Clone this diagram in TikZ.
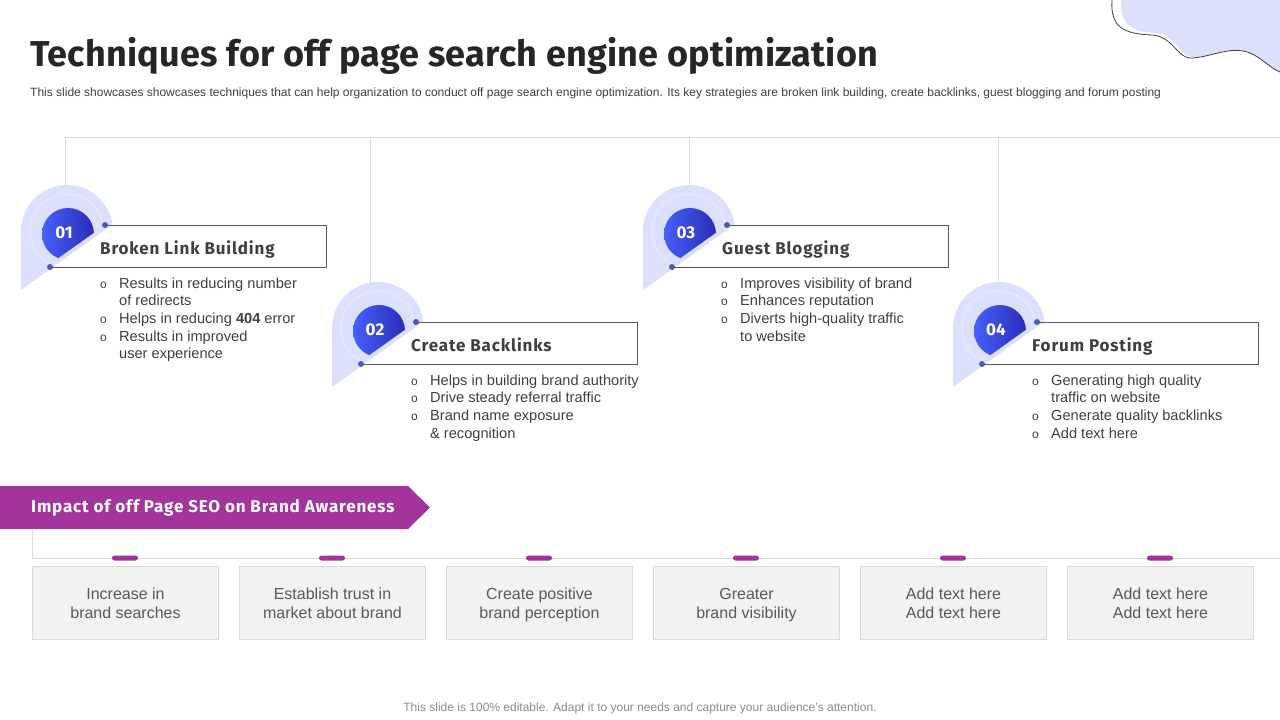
\documentclass[tikz,border=0pt]{standalone}
\usepackage{fontspec}
\setmainfont{Liberation Sans}
\setsansfont{Fira Sans}
\usetikzlibrary{positioning,calc}
\definecolor{ink}{HTML}{262626}
\definecolor{body}{HTML}{404040}
\definecolor{pinbg}{HTML}{DCE0FD}
\definecolor{ring}{HTML}{E9EAF6}
\definecolor{blueA}{HTML}{4660FA}
\definecolor{blueB}{HTML}{2A2DB8}
\definecolor{dotc}{HTML}{4C5CB0}
\definecolor{edge}{HTML}{5A5A5A}
\definecolor{rule}{HTML}{D9D9D9}
\definecolor{plum}{HTML}{A2349C}
\definecolor{boxbg}{HTML}{F2F2F2}
\definecolor{boxtext}{HTML}{595959}
\definecolor{foot}{HTML}{8C8C8C}
\newcommand\blt{{\fontsize{12}{12}\selectfont o}}

\begin{document}
\begin{tikzpicture}[x=1pt,y=-1pt,
  hair/.style={draw=rule,line width=1pt},
  dot/.style={circle,fill=dotc,inner sep=0pt,minimum size=6pt},
  head/.style={anchor=base west,inner sep=0pt,text=body,font=\sffamily\bfseries\fontsize{17}{20}\selectfont\addfontfeature{LetterSpace=5}},
  num/.style={inner sep=0pt,text=white,font=\sffamily\bfseries\fontsize{17}{20}\selectfont},
  points/.style={anchor=base west,inner sep=0pt,text=body,font=\fontsize{14.6}{17.7}\selectfont},
  effect/.style={draw=rule,fill=boxbg,minimum width=186pt,minimum height=73pt,text=boxtext,align=center,font=\fontsize{16}{19.5}\selectfont},
  tab/.style={fill=plum,rounded corners=2.5pt,minimum width=26pt,minimum height=5pt,inner sep=0pt}]
\useasboundingbox (0,0) rectangle (1280,720);
\fill[white] (0,0) rectangle (1280,720);

% corner blob
\fill[pinbg] (1121,0) .. controls (1120,25) and (1132,32) .. (1156,33) .. controls (1175,35) and (1180,56) .. (1192,57) .. controls (1212,57) and (1230,45) .. (1250,53) .. controls (1262,58) and (1270,68) .. (1280,72) -- (1280,0) -- cycle;
\draw[black!75,line width=0.8pt] (1112,0) .. controls (1110,28) and (1125,34) .. (1152,35) .. controls (1172,36) and (1178,58) .. (1190,58) .. controls (1210,58) and (1230,45) .. (1250,53) .. controls (1262,58) and (1270,68) .. (1280,72);

\node[anchor=base west,inner sep=0pt,text=ink,font=\sffamily\bfseries\fontsize{36}{40}\selectfont\addfontfeature{LetterSpace=0.6}] (title) at (30,66) {Techniques for off page search engine optimization};
\node[anchor=base west,inner sep=0pt,text=body,font=\fontsize{12}{14}\selectfont] (sub) at (30,96) {This slide showcases showcases techniques that can help organization to conduct off page search engine optimization. Its key strategies are broken link building, create backlinks, guest blogging and forum posting};

\coordinate (hl) at (65,137);
\coordinate (hr) at (1280,137);
\draw[hair] (hl) -- (hr);

% technique cards
\foreach \n/\px/\py/\vx/\title in {01/67/231/-2/Broken Link Building,02/378/328/-8/Create Backlinks,03/689/231/0/Guest Blogging,04/999/328/-1/Forum Posting}{
\begin{scope}[shift={(\px,\py)}]
\fill[pinbg] (-46,59) -- (-46,0) arc[start angle=180,end angle=352,radius=46] -- cycle;
\begin{scope}
\clip (-46,59) -- (-46,0) arc[start angle=180,end angle=352,radius=46] -- cycle;
\draw[ring,line width=1.2pt] (0,0) circle[radius=37];
\end{scope}
\begin{scope}
\clip (-80,78) -- (70,-29) -- (70,-60) -- (-80,-60) -- cycle;
\shade[left color=blueA,right color=blueB] (1,3) circle[radius=26];
\end{scope}
\coordinate (top\n) at (\vx,-45);
\draw[hair] (top\n) -- (top\n |- hl);
\node[num] (n\n) at (-3,2) {\n};
\node[dot] (u\n) at (38,-6) {};
\node[dot] (l\n) at (-17,36) {};
\draw[edge,line width=1pt] (u\n.center) -- (259,-6) -- (259,36) -- (l\n.center);
\node[head] (h\n) at (33,23) {\title};
\end{scope}
}

\node[points] (p01) at (100,288) {\begin{tabular}[t]{@{}p{19pt}@{}l@{}}\blt & Results in reducing number\\ & of redirects\\ \blt & Helps in reducing \textbf{404} error\\ \blt & Results in improved\\ & user experience\end{tabular}};
\node[points] (p02) at (411,385) {\begin{tabular}[t]{@{}p{19pt}@{}l@{}}\blt & Helps in building brand authority\\ \blt & Drive steady referral traffic\\ \blt & Brand name exposure\\ & \& recognition\end{tabular}};
\node[points] (p03) at (721,288) {\begin{tabular}[t]{@{}p{19pt}@{}l@{}}\blt & Improves visibility of brand\\ \blt & Enhances reputation\\ \blt & Diverts high-quality traffic\\ & to website\end{tabular}};
\node[points] (p04) at (1032,385) {\begin{tabular}[t]{@{}p{19pt}@{}l@{}}\blt & Generating high quality\\ & traffic on website\\ \blt & Generate quality backlinks\\ \blt & Add text here\end{tabular}};

% impact banner
\fill[plum] (0,486) -- (408,486) -- (430,507.5) -- (408,529) -- (0,529) -- cycle;
\node[anchor=west,inner sep=0pt,text=white,font=\sffamily\bfseries\fontsize{17}{20}\selectfont\addfontfeature{LetterSpace=5}] (impact) at (31,507.5) {Impact of off Page SEO on Brand Awareness};
\coordinate (bk) at (32,530);
\coordinate (br) at (1280,558);
\draw[hair] (bk) |- (br);

\foreach \k/\a/\b in {0/Increase in/brand searches,1/Establish trust in/market about brand,2/Create positive/brand perception,3/Greater/brand visibility,4/Add text here/Add text here,5/Add text here/Add text here}{
\node[tab] (m\k) at ({125+207*\k},558) {};
\node[effect] (e\k) at ({125.5+207*\k},602.5) {\rule{0pt}{18.6pt}\a\\\strut\b};
}

\node[anchor=base,inner sep=0pt,text=foot,font=\fontsize{12}{14}\selectfont] (foot) at (640,711) {This slide is 100\% editable. Adapt it to your needs and capture your audience's attention.};
\end{tikzpicture}
\end{document}
